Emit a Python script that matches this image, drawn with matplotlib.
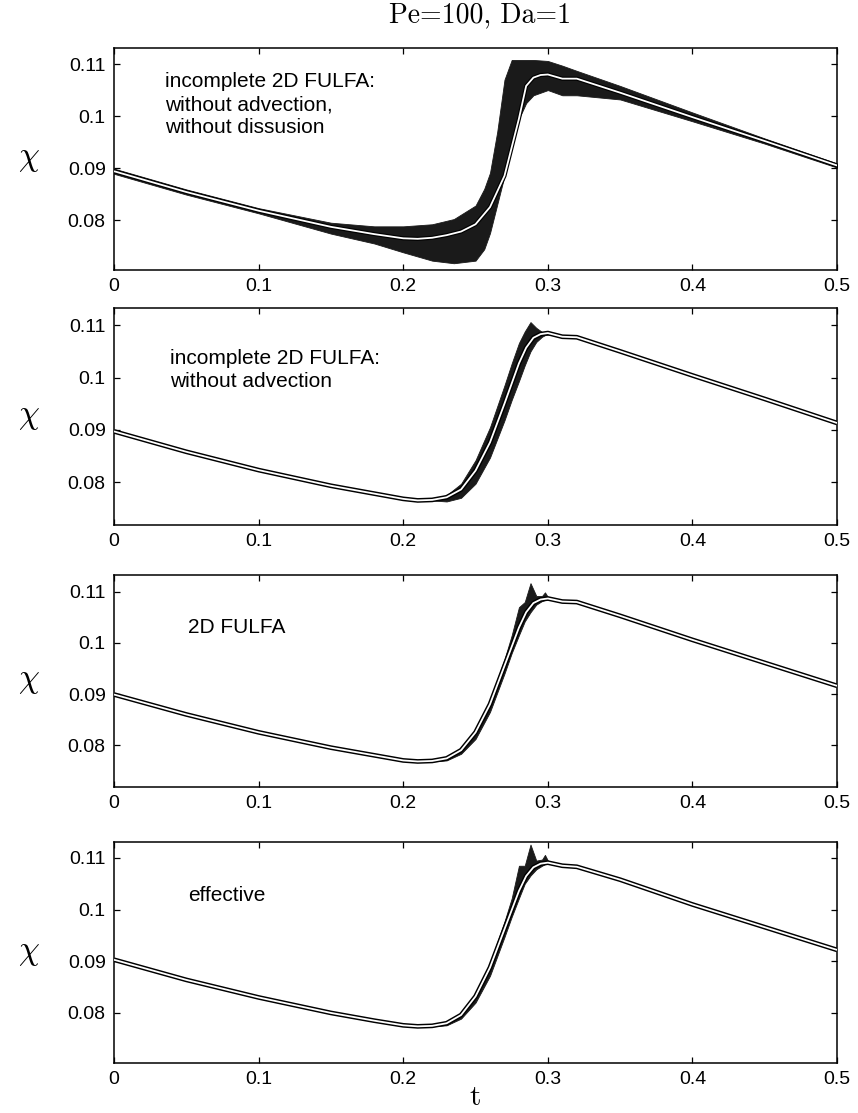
import matplotlib
matplotlib.use("Agg")
import matplotlib.pyplot as plt
from matplotlib.ticker import FixedLocator, FuncFormatter

plt.rcParams["font.family"] = ["Liberation Sans", "DejaVu Sans"]
plt.rcParams["mathtext.fontset"] = "cm"

# time grid shared by the mean curves
t = [0.0, 0.05, 0.10, 0.15, 0.18, 0.20, 0.21, 0.22, 0.23, 0.24, 0.25, 0.26,
     0.27, 0.28, 0.285, 0.29, 0.295, 0.30, 0.31, 0.32, 0.35, 0.40, 0.45, 0.50]

chi_no_adv_no_diff = [0.0894, 0.0854, 0.0818, 0.0787, 0.0773, 0.0765, 0.0764, 0.0766,
                      0.0771, 0.0778, 0.0792, 0.0825, 0.0885, 0.0995, 0.1058, 0.1074,
                      0.1079, 0.1080, 0.1072, 0.1072, 0.1045, 0.0998, 0.0952, 0.0905]
chi_no_adv = [0.0897, 0.0858, 0.0823, 0.0793, 0.0778, 0.0768, 0.0765, 0.0766,
              0.0771, 0.0786, 0.0822, 0.0876, 0.0950, 0.1027, 0.1057, 0.1076,
              0.1083, 0.1085, 0.1078, 0.1077, 0.1050, 0.1004, 0.0959, 0.0913]
chi_fulfa = [0.0899, 0.0860, 0.0825, 0.0795, 0.0780, 0.0770, 0.0768, 0.0769,
             0.0774, 0.0790, 0.0825, 0.0880, 0.0955, 0.1030, 0.1060, 0.1078,
             0.1085, 0.1087, 0.1081, 0.1080, 0.1053, 0.1006, 0.0961, 0.0916]
chi_effective = [0.0903, 0.0864, 0.0830, 0.0800, 0.0785, 0.0776, 0.0774, 0.0775,
                 0.0780, 0.0796, 0.0832, 0.0888, 0.0962, 0.1036, 0.1065, 0.1082,
                 0.1089, 0.1091, 0.1085, 0.1083, 0.1058, 0.1010, 0.0966, 0.0922]

# spread of the cell values, first model (whole time range)
t_band1 = [0.0, 0.05, 0.10, 0.15, 0.18, 0.20, 0.22, 0.235, 0.25, 0.256, 0.26, 0.265,
           0.27, 0.275, 0.28, 0.285, 0.29, 0.30, 0.31, 0.32, 0.35, 0.40, 0.45, 0.50]
band1_hi = [0.0899, 0.0859, 0.0823, 0.0795, 0.0788, 0.0788, 0.0792, 0.0802, 0.0828,
            0.0860, 0.0891, 0.0970, 0.1070, 0.1108, 0.1108, 0.1108, 0.1108, 0.1106,
            0.1097, 0.1087, 0.1058, 0.1007, 0.0957, 0.0909]
band1_lo = [0.0889, 0.0849, 0.0813, 0.0774, 0.0755, 0.0738, 0.0722, 0.0717, 0.0722,
            0.0744, 0.0775, 0.0830, 0.0885, 0.0940, 0.0995, 0.1025, 0.1040, 0.1050,
            0.1040, 0.1040, 0.1032, 0.0990, 0.0947, 0.0901]

# spread around the front for the other three models
t_band = [0.22, 0.23, 0.24, 0.25, 0.26, 0.27, 0.275, 0.28, 0.284, 0.288, 0.292,
          0.296, 0.298, 0.30, 0.305]
band2_hi = [0.0767, 0.0775, 0.0797, 0.0842, 0.0905, 0.0985, 0.1027, 0.1066, 0.1088,
            0.1106, 0.1095, 0.1087, 0.1086, 0.1086, 0.1083]
band2_lo = [0.0765, 0.0763, 0.0770, 0.0797, 0.0847, 0.0918, 0.0957, 0.0993, 0.1023,
            0.1050, 0.1068, 0.1078, 0.1081, 0.1082, 0.1081]
band3_hi = [0.0770, 0.0776, 0.0793, 0.0830, 0.0888, 0.0968, 0.1015, 0.1070, 0.1080,
            0.1117, 0.1092, 0.1092, 0.1099, 0.1090, 0.1085]
band3_lo = [0.0768, 0.0770, 0.0783, 0.0812, 0.0865, 0.0940, 0.0980, 0.1015, 0.1042,
            0.1060, 0.1075, 0.1082, 0.1084, 0.1085, 0.1083]
band4_hi = [0.0776, 0.0782, 0.0800, 0.0838, 0.0897, 0.0977, 0.1022, 0.1085, 0.1085,
            0.1126, 0.1095, 0.1097, 0.1106, 0.1095, 0.1089]
band4_lo = [0.0774, 0.0776, 0.0789, 0.0820, 0.0872, 0.0947, 0.0986, 0.1022, 0.1050,
            0.1066, 0.1078, 0.1085, 0.1088, 0.1089, 0.1087]

labels = ["incomplete 2D FULFA:\nwithout advection,\nwithout dissusion",
          "incomplete 2D FULFA:\nwithout advection",
          "2D FULFA",
          "effective"]
x_ticks = [0.0, 0.1, 0.2, 0.3, 0.4, 0.5]
y_ticks = [0.08, 0.09, 0.10, 0.11]

panels = [
    dict(rect=[0.1329, 0.7574, 0.8427, 0.1995], ylim=(0.0704, 0.1131),
         mean=chi_no_adv_no_diff, bt=t_band1, hi=band1_hi, lo=band1_lo,
         text_xy=(0.070, 0.89), va="top", lw=(3.0, 1.3)),
    dict(rect=[0.1329, 0.5283, 0.8427, 0.1950], ylim=(0.0718, 0.1133),
         mean=chi_no_adv, bt=t_band, hi=band2_hi, lo=band2_lo,
         text_xy=(0.077, 0.81), va="top", lw=(3.4, 1.3)),
    dict(rect=[0.1329, 0.2929, 0.8427, 0.1905], ylim=(0.0718, 0.1133),
         mean=chi_fulfa, bt=t_band, hi=band3_hi, lo=band3_lo,
         text_xy=(0.102, 0.75), va="center", lw=(3.4, 1.3)),
    dict(rect=[0.1329, 0.0449, 0.8427, 0.1986], ylim=(0.0703, 0.1131),
         mean=chi_effective, bt=t_band, hi=band4_hi, lo=band4_lo,
         text_xy=(0.102, 0.76), va="center", lw=(3.4, 1.3)),
]

fig = plt.figure(figsize=(8.58, 11.13), dpi=100)

for p, label in zip(panels, labels):
    ax = fig.add_axes(p["rect"])
    ax.fill_between(p["bt"], p["lo"], p["hi"], color="#1a1a1a", lw=0.6,
                    edgecolor="#1a1a1a", zorder=2)
    ax.plot(t, p["mean"], color="black", lw=p["lw"][0], solid_capstyle="butt", zorder=3)
    ax.plot(t, p["mean"], color="white", lw=p["lw"][1], solid_capstyle="butt", zorder=4)

    ax.set_xlim(0, 0.5)
    ax.set_ylim(*p["ylim"])
    ax.xaxis.set_major_locator(FixedLocator(x_ticks))
    ax.yaxis.set_major_locator(FixedLocator(y_ticks))
    ax.xaxis.set_major_formatter(FuncFormatter(lambda v, _: f"{v:g}"))
    ax.yaxis.set_major_formatter(FuncFormatter(lambda v, _: f"{v:g}"))
    ax.tick_params(direction="in", length=4, width=0.9, top=True, right=True,
                   labelsize=14)
    ax.tick_params(axis="y", pad=6)
    ax.tick_params(axis="x", pad=6)
    for spine in ax.spines.values():
        spine.set_linewidth(1.1)

    ax.set_ylabel(r"$\chi$", rotation=0, fontsize=24, va="center")
    ax.yaxis.set_label_coords(-0.118, 0.5)
    ax.text(*p["text_xy"], label, transform=ax.transAxes, fontsize=15,
            ha="left", va=p["va"], linespacing=1.25)

ax.set_xlabel("t", fontsize=21, family="cmr10")
ax.xaxis.set_label_coords(0.5, -0.10)

fig.text(0.559, 0.9865, "Pe=100, Da=1", fontsize=20, family="cmr10",
         ha="center", va="center")

fig.savefig("out.png", dpi=100)
